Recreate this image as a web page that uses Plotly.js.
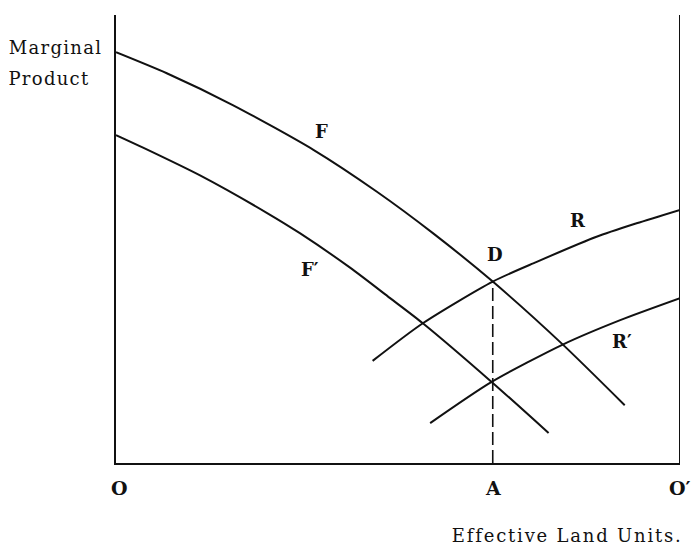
<!DOCTYPE html>
<html>
<head>
<meta charset="utf-8">
<script src="https://cdn.plot.ly/plotly-3.0.1.min.js"></script>
<style>
  html, body { margin: 0; padding: 0; background: #fff; }
  #chart { width: 693px; height: 547px; }
  .annotation[data-index="8"] .annotation-text,
  .annotation[data-index="9"] .annotation-text { letter-spacing: 1.3px; }
  .annotation[data-index="10"] .annotation-text { letter-spacing: 1.8px; }
</style>
</head>
<body>
<div id="chart"></div>
<script>
// Marginal product of land, curves (arbitrary units 0..100)
const fX = [0, 9.0, 20.7, 35.0, 46.2, 56.3, 66.8, 79.0, 90.2];
const fY = [91.7, 87.0, 79.9, 69.9, 60.6, 51.2, 40.5, 26.7, 12.9];
const fPrimeX = [0, 4.8, 14.9, 26.8, 32.6, 41.5, 48.6, 54.4, 66.6, 76.7];
const fPrimeY = [73.2, 70.4, 64.2, 55.8, 51.3, 43.6, 36.8, 31.2, 18.1, 6.7];
const rX = [45.5, 54.4, 66.8, 74.6, 85.2, 92.3, 100];
const rY = [22.8, 31.2, 40.5, 44.9, 50.5, 53.5, 56.5];
const rPrimeX = [55.7, 66.6, 79.3, 89.4, 100];
const rPrimeY = [8.9, 18.1, 26.5, 31.9, 36.8];

// Point D (intersection of F and R) and its projection A on the axis
const pointA = 66.8;
const pointD = 40.5;
const axisMax = 100;

// Curve labels
const curveLabels = ["F", "F\u2032", "D", "R", "R\u2032"];
const curveLabelX = [36.5, 34.4, 67.2, 82.0, 89.7];
const curveLabelY = [74.0, 43.3, 46.6, 54.2, 27.1];

// Axis point labels
const axisLabels = ["O", "A", "O\u2032"];
const axisLabelX = [0, pointA, axisMax];
const axisLabelShift = [3, 0, 0];

const yTitleLines = ["Marginal", "Product"];
const xTitle = "Effective Land Units.";

const serif = "DejaVu Serif, Liberation Serif, serif";
const lineStyle = {color: "#111", width: 2};

function curve(x, y) {
  return {x: x, y: y, mode: "lines", type: "scatter", hoverinfo: "skip",
          line: Object.assign({shape: "spline", smoothing: 0.7}, lineStyle)};
}

const traces = [
  curve(fX, fY),
  curve(fPrimeX, fPrimeY),
  curve(rX, rY),
  curve(rPrimeX, rPrimeY),
  {x: [pointA, pointA], y: [0, pointD], mode: "lines", type: "scatter", hoverinfo: "skip",
   line: {color: "#111", width: 1.6, dash: "13px,5px"}}
];

const annotations = [];
curveLabels.forEach((t, i) => annotations.push({
  text: t, x: curveLabelX[i], y: curveLabelY[i], xref: "x", yref: "y",
  showarrow: false, font: {family: serif, size: 18, color: "#111", weight: "bold"}
}));
axisLabels.forEach((t, i) => annotations.push({
  text: t, x: axisLabelX[i], y: 0, xref: "x", yref: "y", yanchor: "middle",
  xshift: axisLabelShift[i], yshift: -25, showarrow: false,
  font: {family: serif, size: 19, color: "#111", weight: "bold"}
}));
const yTitleShift = [-61, -67];
yTitleLines.forEach((t, i) => annotations.push({
  text: t, x: 0, y: 0, xref: "paper", yref: "paper",
  xanchor: "center", yanchor: "middle", xshift: yTitleShift[i], yshift: 416 - 31 * i,
  showarrow: false, font: {family: serif, size: 18, color: "#111"}
}));
annotations.push({
  text: xTitle, x: 1, y: 0, xref: "paper", yref: "paper",
  xanchor: "center", yanchor: "middle", xshift: -113, yshift: -72,
  showarrow: false, font: {family: serif, size: 18, color: "#111"}
});

const axisCommon = {
  range: [0, axisMax], showgrid: false, zeroline: false, showticklabels: false,
  ticks: "", showline: true, linecolor: "#111", linewidth: 2, fixedrange: true
};

const layout = {
  width: 693, height: 547,
  margin: {l: 116, r: 13, t: 15, b: 84},
  paper_bgcolor: "#fff", plot_bgcolor: "#fff",
  showlegend: false,
  xaxis: Object.assign({}, axisCommon),
  yaxis: Object.assign({}, axisCommon),
  shapes: [{type: "line", xref: "x", yref: "paper", x0: axisMax, x1: axisMax, y0: 0, y1: 1,
            line: {color: "#111", width: 2}}],
  annotations: annotations
};

Plotly.newPlot("chart", traces, layout, {staticPlot: true, displayModeBar: false});
</script>
</body>
</html>
